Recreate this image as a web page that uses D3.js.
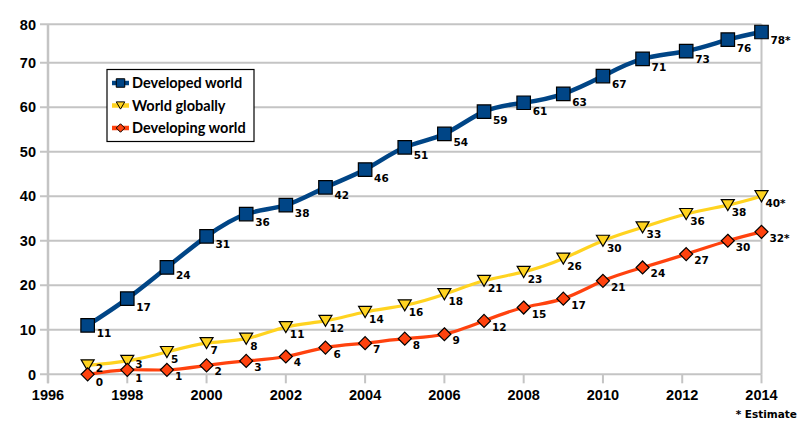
<!DOCTYPE html>
<html lang="en">
<head>
  <meta charset="UTF-8" />
  <title>Internet users per 100 inhabitants</title>
  <script src="https://d3js.org/d3.v7.min.js"></script>
  <style>
    body { margin: 0; background: #fff; }
    svg { display: block; }
    .tick-label { font-family: "Liberation Sans", Arial, sans-serif; font-weight: bold; font-size: 14.5px; fill: #000; }
    .value-label { font-family: "DejaVu Sans", sans-serif; font-weight: bold; font-size: 10.5px; fill: #000; }
    .legend-text { font-family: Lato, "Open Sans", sans-serif; font-weight: bold; font-size: 14.5px; fill: #000; }
  </style>
</head>
<body>
<svg id="chart" width="800" height="436"></svg>

<script>
// data
const years = [1997, 1998, 1999, 2000, 2001, 2002, 2003, 2004, 2005, 2006, 2007, 2008, 2009, 2010, 2011, 2012.1, 2013.15, 2014];
const developed = [11, 17, 24, 31, 36, 38, 42, 46, 51, 54, 59, 61, 63, 67, 71, 73, 76, 78];
const worldGlobal = [2, 3, 5, 7, 8, 10.6, 12, 14, 15.5, 18, 21, 23, 26, 30, 33, 36, 38, 40];
const developing = [0, 1, 1, 2, 3, 4, 6, 7, 8, 9, 12, 15, 17, 21, 24, 27, 30, 32];
const estimateFrom = 2014;
const xTicks = [1996, 1998, 2000, 2002, 2004, 2006, 2008, 2010, 2012, 2014];
const yTicks = [0, 10, 20, 30, 40, 50, 60, 70, 80];
const seriesNames = ["Developed world", "World globally", "Developing world"];

const svg = d3.select("#chart");

const x = d3.scaleLinear().domain([1996, 2014]).range([48, 761.5]);
// the source image is slightly squeezed in its top band
const y = d3.scaleLinear().domain([0, 70, 80]).range([374.3, 62.7, 24.3]);

const grid = "#c4c4c4";

// horizontal grid lines
svg.append("g")
  .selectAll("line")
  .data(yTicks)
  .join("line")
  .attr("x1", 40).attr("x2", x(2014))
  .attr("y1", d => y(d)).attr("y2", d => y(d))
  .attr("stroke", grid).attr("stroke-width", 2);

// frame lines: left axis and right border
svg.append("line")
  .attr("x1", x(1996)).attr("x2", x(1996))
  .attr("y1", y(80)).attr("y2", y(0) + 9)
  .attr("stroke", grid).attr("stroke-width", 2.5);
svg.append("line")
  .attr("x1", x(2014)).attr("x2", x(2014))
  .attr("y1", y(80)).attr("y2", y(0))
  .attr("stroke", grid).attr("stroke-width", 2);

// x ticks
svg.append("g")
  .selectAll("line")
  .data(xTicks)
  .join("line")
  .attr("x1", d => x(d)).attr("x2", d => x(d))
  .attr("y1", y(0)).attr("y2", y(0) + 9)
  .attr("stroke", grid).attr("stroke-width", 2);

svg.append("g")
  .selectAll("text")
  .data(yTicks)
  .join("text")
  .attr("class", "tick-label")
  .attr("x", 36)
  .attr("y", d => y(d))
  .attr("dy", "0.36em")
  .attr("text-anchor", "end")
  .text(d => d);

svg.append("g")
  .selectAll("text")
  .data(xTicks)
  .join("text")
  .attr("class", "tick-label")
  .attr("x", d => x(d))
  .attr("y", 400)
  .attr("text-anchor", "middle")
  .text(d => d);

// marker shapes
function square(s) {
  return `M${-s / 2},${-s / 2}h${s}v${s}h${-s}Z`;
}
function triangleDown(s) {
  const h = s * 0.85;
  return `M${-s / 2},${-h / 2}L${s / 2},${-h / 2}L0,${h / 2}Z`;
}
function diamond(s) {
  return `M0,${-s / 2}L${s / 2},0L0,${s / 2}L${-s / 2},0Z`;
}

const series = [
  { name: seriesNames[1], values: worldGlobal, color: "#ffd320", width: 3.2, shape: triangleDown, size: 13, dx: 4, dy: 11 },
  { name: seriesNames[2], values: developing, color: "#ff420e", width: 3.2, shape: diamond, size: 13, dx: 8, dy: 10 },
  { name: seriesNames[0], values: developed, color: "#004586", width: 4.5, shape: square, size: 13.5, dx: 9, dy: 12 }
];

const line = d3.line()
  .curve(d3.curveNatural)
  .x(d => x(d.year))
  .y(d => y(d.value));

series.forEach(s => {
  const pts = years.map((yr, i) => ({ year: yr, value: s.values[i] }));
  const g = svg.append("g");
  g.append("path")
    .attr("d", line(pts))
    .attr("fill", "none")
    .attr("stroke", s.color)
    .attr("stroke-width", s.width)
    .attr("stroke-linejoin", "round");
  g.selectAll("path.marker")
    .data(pts)
    .join("path")
    .attr("class", "marker")
    .attr("transform", d => `translate(${x(d.year)},${y(d.value)})`)
    .attr("d", s.shape(s.size))
    .attr("fill", s.color)
    .attr("stroke", "#000")
    .attr("stroke-width", 1.2);
  s.labels = pts.map(d => ({
    x: x(d.year) + s.dx,
    y: y(d.value) + s.dy,
    text: Math.round(d.value) + (d.year >= estimateFrom ? "*" : "")
  }));
});

// keep world/developing labels apart where the two lines run close
const minGap = 14;
series[0].labels.forEach((w, i) => {
  const dv = series[1].labels[i];
  const gap = dv.y - w.y;
  if (gap < minGap) {
    const deficit = minGap - gap;
    const down = Math.min(2, deficit / 2);
    dv.y += down;
    w.y -= deficit - down;
    w.x += 4; // clear the triangle once the label is lifted
  }
});

// value labels drawn on top of all lines
series.forEach(s => {
  svg.append("g")
    .selectAll("text")
    .data(s.labels)
    .join("text")
    .attr("class", "value-label")
    .attr("x", d => d.x)
    .attr("y", d => d.y)
    .text(d => d.text);
});

svg.append("text")
  .attr("class", "value-label")
  .attr("x", 797)
  .attr("y", 418)
  .attr("text-anchor", "end")
  .text("* Estimate");

// legend
const legend = svg.append("g");
legend.append("rect")
  .attr("x", 107).attr("y", 69.5)
  .attr("width", 147).attr("height", 72)
  .attr("fill", "#fff")
  .attr("stroke", "#000")
  .attr("stroke-width", 1.2);

const legendOrder = [series[2], series[0], series[1]];
legendOrder.forEach((s, i) => {
  const cy = 83 + i * 22.5;
  legend.append("line")
    .attr("x1", 112).attr("x2", 129)
    .attr("y1", cy).attr("y2", cy)
    .attr("stroke", s.color)
    .attr("stroke-width", 4.5);
  legend.append("path")
    .attr("transform", `translate(120.5,${cy})`)
    .attr("d", s.shape(8.5))
    .attr("fill", s.color)
    .attr("stroke", "#000")
    .attr("stroke-width", 1);
  legend.append("text")
    .attr("class", "legend-text")
    .attr("x", 132)
    .attr("y", cy)
    .attr("dy", "0.36em")
    .text(s.name);
});
</script>
</body>
</html>
